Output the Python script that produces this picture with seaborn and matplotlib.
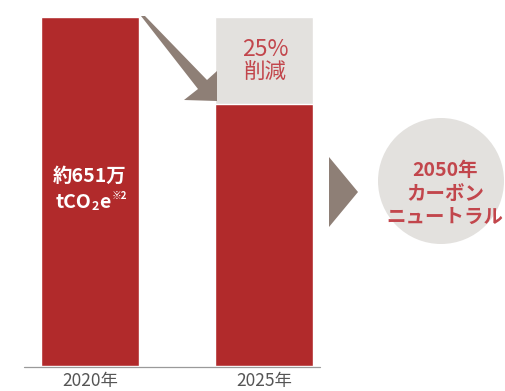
import matplotlib
matplotlib.use("Agg")
import matplotlib.pyplot as plt
import seaborn as sns
import pandas as pd
from matplotlib.patches import Polygon, Circle

sns.set_theme(style="white")
plt.rcParams['font.family'] = ['Noto Sans CJK JP', 'DejaVu Sans']

years = ["2020年", "2025年"]
emissions = [651, 488]          # 万tCO2e (2025 = 25% reduction)
reduction = [0, 163]            # removed portion shown in grey
total_label = ["約651万", "tCO", "2", "e", "※2"]
cut_label = ["25%", "削減"]
goal_label = ["2050年", "カーボン", "ニュートラル"]

RED = "#b12a2b"
GREY = "#e3e1de"
ARROW = "#8e7f76"
PINK = "#c2464c"

W, H = 506, 391
fig = plt.figure(figsize=(W / 100, H / 100), dpi=100)

# main axes: category 0 at x=90px, category 1 at 264px; value 0 at y=366px(top-based), 651 at 17px
ax = fig.add_axes([0, 0, 1, 1])
px_per_cat = 174.0
px_per_val = 349.0 / 651

df = pd.DataFrame({"year": years, "val": emissions,
                   "top": [e + r for e, r in zip(emissions, reduction)]})
bw = 98 / px_per_cat
sns.barplot(data=df, x="year", y="top", color=GREY, width=bw, ax=ax,
            saturation=1)
sns.barplot(data=df, x="year", y="val", color=RED, width=bw, ax=ax,
            saturation=1)
ax.set_xlim(-90 / px_per_cat, (W - 90) / px_per_cat)
ax.set_ylim(-25 / px_per_val, (H - 25) / px_per_val)
ax.set_axis_off()

# overlay axes in pixel coords for decorations
ov = fig.add_axes([0, 0, 1, 1], facecolor="none")
ov.set_xlim(0, W)
ov.set_ylim(H, 0)
ov.set_axis_off()

# baseline
ov.plot([24, 320], [366.5, 366.5], color="#9a9a9a", lw=0.9)

# year labels
for i, y in enumerate(years):
    xp = 90 + i * px_per_cat
    ov.text(xp, 381, y, ha="center", va="center", fontsize=12.5, color="#555555")

# diagonal arrow
ov.add_patch(Polygon([(141, 16), (145, 16), (207, 80), (217, 71), (217, 101),
                      (184, 100), (198, 89)], closed=True, color=ARROW, lw=0))

# grey box text
ov.text(265, 49, cut_label[0], ha="center", va="center", fontsize=16.5, color=PINK)
ov.text(265, 73, cut_label[1], ha="center", va="center", fontsize=15.5, color=PINK)

# bar 1 text
ov.text(90, 176, total_label[0], ha="center", va="center", fontsize=14,
        color="white", fontweight="bold")
fig.canvas.draw()
r = fig.canvas.get_renderer()
inv = ov.transData.inverted()
x = 56
t1 = ov.text(x, 203, total_label[1], ha="left", va="center", fontsize=14,
             color="white", fontweight="bold")
bb = t1.get_window_extent(r)
x = inv.transform((bb.x1, 0))[0]
t2 = ov.text(x, 206, total_label[2], ha="left", va="center", fontsize=9,
             color="white", fontweight="bold")
bb = t2.get_window_extent(r)
x = inv.transform((bb.x1, 0))[0]
t3 = ov.text(x, 203, total_label[3], ha="left", va="center", fontsize=14,
             color="white", fontweight="bold")
bb = t3.get_window_extent(r)
x = inv.transform((bb.x1, 0))[0] + 1
ov.text(x, 196, total_label[4], ha="left", va="center", fontsize=7,
        color="white", fontweight="bold")

# right triangle arrow
ov.add_patch(Polygon([(329, 157), (329, 227), (358, 192)], closed=True,
                     color=ARROW, lw=0))

# goal circle
ov.add_patch(Circle((441, 181), 63, color=GREY, lw=0))
ov.text(445, 171, goal_label[0], ha="center", va="center", fontsize=14,
        color=PINK, fontweight="bold")
ov.text(445, 194, goal_label[1], ha="center", va="center", fontsize=14,
        color=PINK, fontweight="bold")
ov.text(445, 217, goal_label[2], ha="center", va="center", fontsize=14,
        color=PINK, fontweight="bold")

fig.savefig("out.png", dpi=100)
